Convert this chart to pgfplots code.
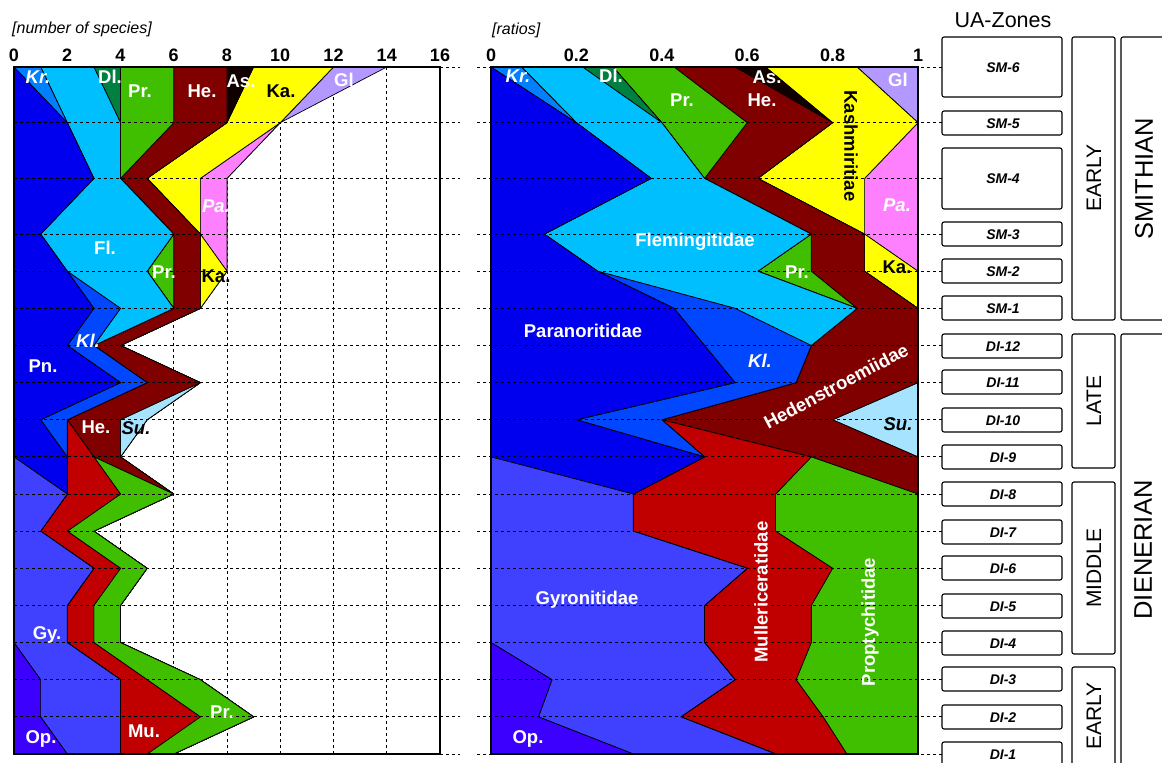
\documentclass[border=0pt]{standalone}
\usepackage{pgfplots}
\pgfplotsset{compat=1.18}
\usepackage{pgfplotstable}
\usepackage{fontspec}
\setmainfont{Liberation Sans}

\definecolor{cOp}{HTML}{3C00FF}
\definecolor{cGy}{HTML}{4040FF}
\definecolor{cPn}{HTML}{0000EE}
\definecolor{cKr}{HTML}{0080FF}
\definecolor{cKl}{HTML}{0047FF}
\definecolor{cFl}{HTML}{00BFFF}
\definecolor{cDl}{HTML}{008040}
\definecolor{cMu}{HTML}{C00000}
\definecolor{cPr}{HTML}{40BF00}
\definecolor{cHe}{HTML}{800000}
\definecolor{cSu}{HTML}{A6E3FF}
\definecolor{cAs}{HTML}{100000}
\definecolor{cKa}{HTML}{FFFF00}
\definecolor{cPa}{HTML}{FF80FF}
\definecolor{cGl}{HTML}{B399FF}

% number of species per UA-zone (y: DI-1=0 ... DI-12=11, SM-1=12, SM-2=13, SM-3=14, SM-4=15.5, SM-5=17, SM-6=18.5)
\pgfplotstableread{
y    Op Gy Pn Kr Kl Fl Dl Mu Pr He Su As Ka Pa Gl
0    2  2  0  0  0  0  0  1  1  0  0  0  0  0  0
1    1  3  0  0  0  0  0  3  2  0  0  0  0  0  0
2    1  3  0  0  0  0  0  1  2  0  0  0  0  0  0
3    0  2  0  0  0  0  0  1  1  0  0  0  0  0  0
4    0  2  0  0  0  0  0  1  1  0  0  0  0  0  0
5    0  3  0  0  0  0  0  1  1  0  0  0  0  0  0
6    0  1  0  0  0  0  0  1  1  0  0  0  0  0  0
7    0  2  0  0  0  0  0  2  2  0  0  0  0  0  0
8    0  0  2  0  0  0  0  1  0  1  0  0  0  0  0
9    0  0  1  0  1  0  0  0  0  2  1  0  0  0  0
10   0  0  4  0  1  0  0  0  0  2  0  0  0  0  0
11   0  0  2  0  1  0  0  0  0  1  0  0  0  0  0
12   0  0  3  0  1  2  0  0  0  1  0  0  0  0  0
13   0  0  2  0  0  3  0  0  1  1  0  0  1  0  0
14   0  0  1  0  0  5  0  0  0  1  0  0  0  1  0
15.5 0  0  3  0  0  1  0  0  0  1  0  0  2  1  0
17   0  0  2  0  0  2  0  0  2  2  0  0  2  0  0
18.5 0  0  0  1  0  2  1  0  2  2  0  1  3  0  2
}\counts

% ratios per UA-zone
\pgfplotstableread{
y    Op     Gy     Pn     Kr     Kl     Fl     Dl     Mu     Pr     He     Su  As     Ka     Pa    Gl
0    0.3333 0.3333 0      0      0      0      0      0.1667 0.1667 0      0   0      0      0     0
1    0.1111 0.3333 0      0      0      0      0      0.3333 0.2223 0      0   0      0      0     0
2    0.1429 0.4286 0      0      0      0      0      0.1429 0.2856 0      0   0      0      0     0
3    0      0.5    0      0      0      0      0      0.25   0.25   0      0   0      0      0     0
4    0      0.5    0      0      0      0      0      0.25   0.25   0      0   0      0      0     0
5    0      0.6    0      0      0      0      0      0.2    0.2    0      0   0      0      0     0
6    0      0.3333 0      0      0      0      0      0.3333 0.3334 0      0   0      0      0     0
7    0      0.3333 0      0      0      0      0      0.3333 0.3334 0      0   0      0      0     0
8    0      0      0.5    0      0      0      0      0.25   0      0.25   0   0      0      0     0
9    0      0      0.2    0      0.2    0      0      0      0      0.4    0.2 0      0      0     0
10   0      0      0.5714 0      0.1429 0      0      0      0      0.2857 0   0      0      0     0
11   0      0      0.5    0      0.25   0      0      0      0      0.25   0   0      0      0     0
12   0      0      0.4286 0      0.1429 0.2857 0      0      0      0.1428 0   0      0      0     0
13   0      0      0.25   0      0      0.375  0      0      0.125  0.125  0   0      0.125  0     0
14   0      0      0.125  0      0      0.625  0      0      0      0.125  0   0      0      0.125 0
15.5 0      0      0.375  0      0      0.125  0      0      0      0.125  0   0      0.25   0.125 0
17   0      0      0.2    0      0      0.2    0      0      0.2    0.2    0   0      0.2    0     0
18.5 0      0      0      0.0714 0      0.1429 0.0714 0      0.1429 0.1429 0   0.0714 0.2143 0     0.1428
}\ratios

\newcommand{\stackall}[1]{%
\addplot[ar=cOp] table[x=Op,y=y]{#1} \closedcycle;
\addplot[ar=cGy] table[x=Gy,y=y]{#1} \closedcycle;
\addplot[ar=cPn] table[x=Pn,y=y]{#1} \closedcycle;
\addplot[ar=cKr] table[x=Kr,y=y]{#1} \closedcycle;
\addplot[ar=cKl] table[x=Kl,y=y]{#1} \closedcycle;
\addplot[ar=cFl] table[x=Fl,y=y]{#1} \closedcycle;
\addplot[ar=cDl] table[x=Dl,y=y]{#1} \closedcycle;
\addplot[ar=cMu] table[x=Mu,y=y]{#1} \closedcycle;
\addplot[ar=cPr] table[x=Pr,y=y]{#1} \closedcycle;
\addplot[ar=cHe] table[x=He,y=y]{#1} \closedcycle;
\addplot[ar=cSu] table[x=Su,y=y]{#1} \closedcycle;
\addplot[ar=cAs] table[x=As,y=y]{#1} \closedcycle;
\addplot[ar=cKa] table[x=Ka,y=y]{#1} \closedcycle;
\addplot[ar=cPa] table[x=Pa,y=y]{#1} \closedcycle;
\addplot[ar=cGl] table[x=Gl,y=y]{#1} \closedcycle;
}

\begin{document}
\begin{tikzpicture}[x=1pt,y=1pt,
  lab/.style={font=\fontsize{18.5}{18.5}\selectfont\bfseries, text=white, inner sep=0pt},
  labi/.style={lab, font=\fontsize{18.5}{18.5}\selectfont\bfseries\itshape},
  ar/.style={fill=#1, draw=black, line width=0.7pt, line join=round},
  hd/.style={black, line width=0.9pt, dash pattern=on 3pt off 3pt},
  zb/.style={draw=black, line width=1.1pt, rounded corners=2pt},
  zt/.style={font=\fontsize{14}{14}\selectfont\bfseries\itshape, inner sep=0pt}]
\useasboundingbox (0,0) rectangle (1162,763);

% ---------- left panel ----------
\begin{axis}[at={(14pt,9pt)}, anchor=south west, scale only axis,
  width=426pt, height=687pt, xmin=0, xmax=16, ymin=0, ymax=18.5,
  stack plots=x,
  ytick=\empty, xtick={0,2,...,16}, xticklabels={0,2,4,6,8,10,12,14,16},
  xticklabel pos=upper, major tick length=0pt,
  xticklabel style={font=\fontsize{18}{18}\selectfont\bfseries, yshift=2pt},
  xmajorgrids, grid style={black, line width=0.9pt, dash pattern=on 3pt off 3pt},
  axis line style={line width=1.3pt}]
\stackall{\counts}
\end{axis}

% ---------- right panel ----------
\begin{axis}[at={(491pt,9pt)}, anchor=south west, scale only axis,
  width=427pt, height=687pt, xmin=0, xmax=1, ymin=0, ymax=18.5,
  stack plots=x,
  ytick=\empty, xtick={0,0.2,0.4,0.6,0.8,1}, xticklabels={0,0.2,0.4,0.6,0.8,1},
  xticklabel pos=upper, major tick length=0pt,
  xticklabel style={font=\fontsize{18}{18}\selectfont\bfseries, yshift=2pt},
  axis line style={line width=1.3pt}]
\stackall{\ratios}
\end{axis}

% zone reference lines (drawn over the areas) and frames
\foreach \v in {0,1,2,3,4,5,6,7,8,9,10,11,12,13,14,15.5,17,18.5}{
  \draw[hd] (14,9+37.135*\v) -- (460,9+37.135*\v);
  \draw[hd] (477,9+37.135*\v) -- (942,9+37.135*\v);
}
\draw[line width=1.3pt] (14,9) rectangle (440,696);
\draw[line width=1.3pt] (491,9) rectangle (918,696);

% axis titles
\node[anchor=west, inner sep=0pt, font=\fontsize{16}{16}\selectfont\itshape] at (12,763-29) {[number of species]};
\node[anchor=west, inner sep=0pt, font=\fontsize{16}{16}\selectfont\itshape] at (492,763-30) {[ratios]};

% left panel labels
\node[labi] at (38,763-77) {Kr.};
\node[lab] at (110,763-77) {Dl.};
\node[lab] at (140,763-91) {Pr.};
\node[lab] at (202,763-91) {He.};
\node[lab] at (241,763-81) {As.};
\node[lab,text=black] at (281,763-91) {Ka.};
\node[lab] at (344,763-80) {Gl};
\node[labi] at (216,763-206) {Pa.};
\node[lab] at (105,763-248) {Fl.};
\node[lab] at (164,763-272) {Pr.};
\node[lab,text=black] at (216,763-276) {Ka.};
\node[labi] at (88,763-341) {Kl.};
\node[lab] at (43,763-366) {Pn.};
\node[lab] at (96,763-427) {He.};
\node[labi,text=black] at (136,763-428) {Su.};
\node[lab] at (47,763-635) {Gy.};
\node[lab] at (41,763-739) {Op.};
\node[lab] at (144,763-731) {Mu.};
\node[lab] at (222,763-712) {Pr.};

% right panel labels
\node[labi] at (518,763-76) {Kr.};
\node[lab] at (611,763-76) {Dl.};
\node[lab] at (767,763-77) {As.};
\node[lab] at (898,763-80) {Gl};
\node[lab] at (682,763-100) {Pr.};
\node[lab] at (762,763-100) {He.};
\node[lab,text=black,rotate=-90] at (851,763-146) {Kashmiritiae};
\node[labi] at (897,763-205) {Pa.};
\node[lab] at (695,763-242) {Flemingitidae};
\node[lab] at (797,763-272) {Pr.};
\node[lab,text=black] at (897,763-267) {Ka.};
\node[lab] at (583,763-331) {Paranoritidae};
\node[labi] at (760,763-361) {Kl.};
\node[lab,rotate=28] at (836,763-386) {Hedenstroemiidae};
\node[labi,text=black] at (898,763-424) {Su.};
\node[lab] at (587,763-600) {Gyronitidae};
\node[lab,rotate=90] at (761,763-592) {Mullericeratidae};
\node[lab,rotate=90] at (870,763-622) {Proptychitidae};
\node[lab] at (528,763-739) {Op.};

% ---------- UA-zones column ----------
\node[inner sep=0pt, font=\fontsize{21.5}{21.5}\selectfont] at (1003,763-20) {UA-Zones};
\foreach \t/\b/\c/\n in {37/97/67/SM-6, 111/135/123/SM-5, 148/209/178/SM-4, 222/246/234/SM-3,
  259/283/271/SM-2, 296/320/308/SM-1, 334/358/346/DI-12, 370/394/382/DI-11, 408/432/420/DI-10,
  445/469/457/DI-9, 482/506/494/DI-8, 520/544/532/DI-7, 556/580/568/DI-6, 594/618/606/DI-5,
  631/655/643/DI-4, 667/691/679/DI-3, 705/729/717/DI-2, 742/766/754/DI-1}{
  \draw[zb] (942,763-\t) rectangle (1062,763-\b);
  \node[zt] at (1003,763-\c-1) {\n};
}
% sub-stages
\draw[zb] (1072,763-37) rectangle (1115,763-320);
\draw[zb] (1072,763-334) rectangle (1115,763-468);
\draw[zb] (1072,763-482) rectangle (1115,763-654);
\draw[zb] (1072,763-667) rectangle (1115,763-790);
\node[rotate=90, inner sep=0pt, font=\fontsize{21}{21}\selectfont] at (1094,763-178) {EARLY};
\node[rotate=90, inner sep=0pt, font=\fontsize{21}{21}\selectfont] at (1094,763-401) {LATE};
\node[rotate=90, inner sep=0pt, font=\fontsize{21}{21}\selectfont] at (1094,763-568) {MIDDLE};
\node[rotate=90, inner sep=0pt, font=\fontsize{21}{21}\selectfont] at (1094,763-716) {EARLY};
% stages
\draw[zb] (1121,763-37) rectangle (1200,763-320);
\draw[zb] (1121,763-334) rectangle (1200,763-790);
\node[rotate=90, inner sep=0pt, font=\fontsize{25.5}{25.5}\selectfont] at (1144,763-179) {SMITHIAN};
\node[rotate=90, inner sep=0pt, font=\fontsize{25.5}{25.5}\selectfont] at (1143,763-550) {DIENERIAN};
\end{tikzpicture}
\end{document}
